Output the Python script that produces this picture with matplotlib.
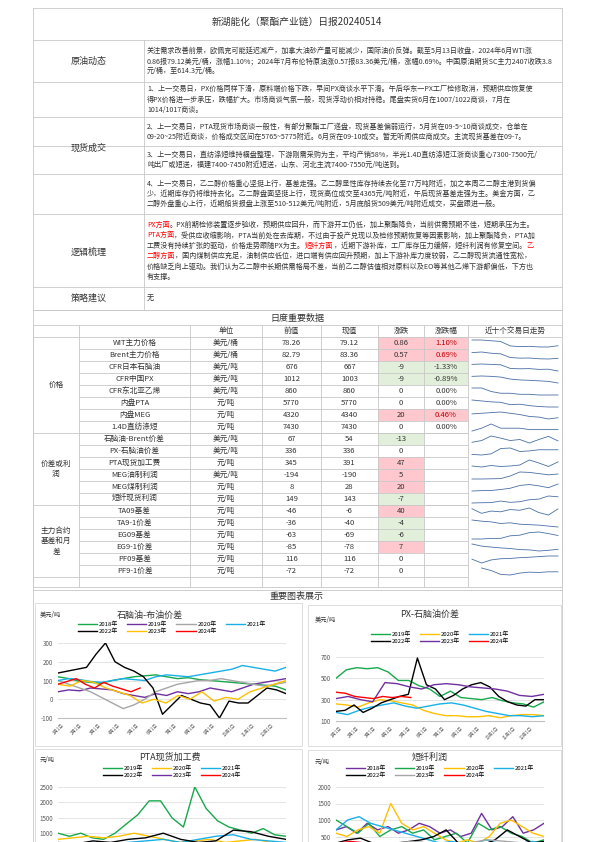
import matplotlib
matplotlib.use('Agg')
import matplotlib.pyplot as plt
import numpy as np

plt.rcParams['font.family'] = ['Noto Sans CJK SC', 'DejaVu Sans']
plt.rcParams['axes.unicode_minus'] = False

# ---------- text content ----------
title = '新湖能化（聚酯产业链）日报20240514'

crude_lines = [
    '关注需求改善前景，欧佩克可能延迟减产，加拿大油砂产量可能减少，国际油价反弹。截至5月13日收盘，2024年6月WTI涨',
    '0.86报79.12美元/桶，涨幅1.10%；2024年7月布伦特原油涨0.57报83.36美元/桶，涨幅0.69%。中国原油期货SC主力2407收跌3.8',
    '元/桶，至614.3元/桶。',
]
spot_blocks = [
    ['1、上一交易日，PX价格同样下滑，原料端价格下跌，早间PX商谈水平下滑。午后华东一PX工厂检修取消，预期供应恢复使',
     '得PX价格进一步承压，跌幅扩大。市场商谈气氛一般，现货浮动价相对持稳。尾盘实货6月在1007/1022商谈，7月在',
     '1014/1017商谈。'],
    ['2、上一交易日，PTA现货市场商谈一般性，有部分聚酯工厂递盘，现货基差偏弱运行，5月货在09-5~10商谈成交，仓单在',
     '09-20~25附近商谈，价格成交区间在5765~5775附近。6月货在09-10成交。暂无听闻供应商成交。主流现货基差在09-7。'],
    ['3、上一交易日，直纺涤短维持横盘整理，下游刚需采购为主，平均产销58%，半光1.4D直纺涤短江浙商谈重心7300-7500元/',
     '吨出厂或短送，福建7400-7450附近短送，山东、河北主流7400-7550元/吨送到。'],
    ['4、上一交易日，乙二醇价格重心坚挺上行，基差走强。乙二醇显性库存持续去化至77万吨附近，加之本周乙二醇主港到货偏',
     '少，近期库存仍将维持去化。乙二醇盘面坚挺上行，现货高位成交至4365元/吨附近，午后现货基差走强为主。美金方面，乙',
     '二醇外盘重心上行，近期船货报盘上涨至510-512美元/吨附近，5月底船货509美元/吨附近成交，买盘跟进一般。'],
]
logic_lines = [
    [('PX方面', 1), ('。PX前期检修装置逐步验收，预期供应回升，而下游开工仍低，加上聚酯降负，当前供需预期不佳，短期承压为主。', 0)],
    [('PTA方面', 1), ('，受供应收缩影响，PTA当前处在去库期，不过由于投产兑现以及检修预期恢复等因素影响，加上聚酯降负，PTA加', 0)],
    [('工费没有持续扩张的驱动，价格走势跟随PX为主。', 0), ('短纤方面', 1), ('，近期下游补库，工厂库存压力缓解，短纤利润有修复空间。', 0), ('乙', 1)],
    [('二醇方面', 1), ('，国内煤制供应充足，油制供应低位，进口端有供应回升预期，加上下游补库力度较弱，乙二醇现货流通性宽松，', 0)],
    [('价格缺乏向上驱动。我们认为乙二醇中长期供需格局不差，当前乙二醇估值相对原料以及EO等其他乙烯下游都偏低，下方也', 0)],
    [('有支撑。', 0)],
]

# ---------- daily data table ----------
headers = ['单位', '前值', '现值', '涨跌', '涨跌幅', '近十个交易日走势']
groups = [('价格', 0, 8), ('价差或利\n润', 8, 14), ('主力合约\n基差和月\n差', 14, 20)]
names = ['WIT主力价格', 'Brent主力价格', 'CFR日本石脑油', 'CFR中国PX', 'CFR东北亚乙烯', '内盘PTA', '内盘MEG',
         '1.4D直纺涤短', '石脑油-Brent价差', 'PX-石脑油价差', 'PTA现货加工费', 'MEG油制利润', 'MEG煤制利润',
         '短纤现货利润', 'TA09基差', 'TA9-1价差', 'EG09基差', 'EG9-1价差', 'PF09基差', 'PF9-1价差']
units = ['美元/桶', '美元/桶', '美元/吨', '美元/吨', '美元/吨', '元/吨', '元/吨', '元/吨', '美元/吨', '美元/吨',
         '元/吨', '美元/吨', '元/吨', '元/吨', '元/吨', '元/吨', '元/吨', '元/吨', '元/吨', '元/吨']
prev_vals = ['78.26', '82.79', '676', '1012', '860', '5770', '4320', '7430', '67', '336', '345', '-194', '8',
             '149', '-46', '-36', '-63', '-85', '116', '-72']
cur_vals = ['79.12', '83.36', '667', '1003', '860', '5770', '4340', '7430', '54', '336', '391', '-190', '28',
            '143', '-6', '-40', '-69', '-78', '116', '-72']
changes = ['0.86', '0.57', '-9', '-9', '0', '0', '20', '0', '-13', '0', '47', '5', '20', '-7', '40', '-4', '-6',
           '7', '0', '0']
pct = ['1.10%', '0.69%', '-1.33%', '-0.89%', '0.00%', '0.00%', '0.46%', '0.00%'] + [''] * 12
spark = [
    [83, 83, 82.5, 82, 79, 78.5, 78.7, 78.3, 78.26, 79.12],
    [88, 88.5, 87.5, 87, 84, 83.5, 83.6, 83, 82.79, 83.36],
    [700, 702, 700, 698, 680, 678, 679, 675, 676, 667],
    [1040, 1042, 1040, 1036, 1025, 1020, 1018, 1015, 1012, 1003],
    [880, 880, 870, 865, 865, 862, 862, 860, 860, 860],
    [5920, 5900, 5880, 5870, 5820, 5830, 5800, 5780, 5770, 5770],
    [4400, 4410, 4420, 4430, 4410, 4390, 4360, 4350, 4320, 4340],
    [7420, 7440, 7470, 7440, 7440, 7440, 7430, 7430, 7430, 7430],
    [50, 55, 68, 62, 55, 58, 48, 58, 67, 54],
    [320, 318, 322, 340, 342, 330, 332, 336, 336, 336],
    [350, 340, 355, 345, 350, 360, 410, 380, 345, 391],
    [-215, -215, -214, -213, -200, -180, -182, -188, -194, -190],
    [-10, -8, -7, -2, 5, 20, 25, 18, 8, 28],
    [95, 97, 98, 110, 100, 105, 120, 125, 149, 143],
    [-5, -35, -20, -25, -10, -15, 0, -30, -46, -6],
    [-10, -15, -18, -25, -22, -28, -30, -32, -36, -40],
    [-80, -80, -78, -78, -70, -68, -60, -58, -63, -69],
    [-40, -55, -62, -68, -72, -80, -82, -90, -85, -78],
    [95, 70, 90, 98, 100, 105, 108, 112, 116, 116],
    [None, -60, -68, -80, -82, -76, -73, -74, -72, -72],
]

# ---------- seasonal charts ----------
c1_years = ['2018年', '2019年', '2020年', '2021年', '2022年', '2023年', '2024年']
c1_colors = ['#17a84b', '#7030a0', '#a6a6a6', '#19b0e8', '#000000', '#ffc000', '#ff0000']
c1_data = [
    [120, 110, 95, 90, 85, 100, 110, 120, 125, 130, 120, 110, 115, 105, 100, 95, 90, 85, 80, 75, 70, 50],
    [40, 50, 45, 60, 55, 50, 30, 20, 10, 30, 20, 40, 30, 40, 60, 50, 40, 60, 80, 90, 100, 110],
    [100, 80, 60, 40, 10, -20, -50, -30, 0, 40, 60, 80, 90, 100, 100, 110, 100, 90, 80, 70, 80, 90],
    [100, 110, 105, 95, 90, 100, 110, 105, 100, 120, 130, 125, 120, 130, 140, 150, 160, 180, 170, 160, 150, 170],
    [140, 150, 160, 170, 240, 300, 200, 170, 150, 120, 60, -80, -30, 20, 0, -20, -30, -100, -10, -20, -20, 20, 60, 50, 30],
    [80, 70, 100, 90, 60, 40, 20, -20, 0, -20, 20, 0, 40, -10, 10, 0, 40, 60, 80, 100],
    [80, 95, 110, 80, 60, 90, 70, 55, 40, 60],
]
c1_end = [1, 1, 1, 1, 1, 1, 0.36]

c2_years = ['2019年', '2020年', '2021年', '2022年', '2023年', '2024年']
c2_colors = ['#17a84b', '#ffc000', '#19b0e8', '#000000', '#7030a0', '#ff0000']
c2_data = [
    [500, 580, 600, 590, 600, 560, 480, 480, 430, 400, 330, 380, 320, 310, 300, 320, 290, 270, 260, 230, 280],
    [260, 250, 230, 270, 300, 290, 270, 250, 200, 170, 150, 150, 140, 140, 150, 130, 150, 160, 160, 150],
    [180, 160, 200, 230, 250, 270, 240, 220, 240, 260, 270, 250, 220, 190, 170, 150, 150, 140, 150],
    [190, 200, 250, 180, 220, 270, 300, 330, 350, 690, 440, 400, 300, 340, 400, 440, 460, 420, 330, 280, 250, 240, 300, 300],
    [310, 330, 300, 280, 460, 450, 420, 400, 440, 450, 440, 420, 410, 400, 380, 340, 330, 350],
    [370, 360, 330, 320, 310, 330, 320, 330, 320],
]
c2_end = [1, 1, 1, 1, 1, 0.36]

c3_years = ['2019年', '2020年', '2021年', '2022年', '2023年', '2024年']
c3_colors = ['#17a84b', '#ffc000', '#19b0e8', '#000000', '#7030a0', '#ff0000']
c3_data = [
    [1000, 900, 1000, 850, 800, 1000, 1300, 1600, 2050, 2050, 1500, 1200, 2500, 1800, 1400, 1200, 1100, 1000, 1150, 950, 900],
    [800, 850, 900, 850, 900, 1000, 900, 800, 700, 750, 800, 700, 750, 800, 700, 650],
    [600, 650, 700, 650, 700, 750, 800, 700, 800, 900, 950, 800, 750, 700],
    [700, 650, 750, 700, 800, 850, 1000, 800, 700, 750, 1100, 1050, 900, 800],
    [400, 500, 450, 600, 550, 500, 450, 500, 400, 450, 500],
    [400, 450, 380, 420, 400, 390],
]
c3_end = [1, 1, 1, 1, 1, 0.36]

c4_years = ['2018年', '2019年', '2020年', '2021年', '2022年', '2023年', '2024年']
c4_colors = ['#7030a0', '#17a84b', '#ffc000', '#19b0e8', '#000000', '#a6a6a6', '#ff0000']
c4_data = [
    [700, 800, 600, 900, 700, 800, 600, 700, 900, 800, 600, 700, 500, 600, 1200, 700, 800, 1100, 600, 700, 900],
    [1000, 800, 600, 900, 500, 700, 800, 600, 700, 400, 500, 600, 300, 900, 700, 800, 600, 500, 300, 400],
    [600, 500, 700, 800, 600, 1500, 900, 700, 800, 600, 400, 300, 400, 300, 500, 900, 1000, 800, 600, 500],
    [700, 1000, 1100, 900, 800, 700, 600, 500, 400, 300, 350, 300, 300, 400, 300, 250, 300, 350, 300],
    [300, 400, 450, 300, 200, 300, 350, 400, 500, 700, 300, 200, 250, 400, 700, 500, 300, 350],
    [200, 300, 250, 300, 350, 300, 250, 300, 400, 350, 300, 250],
    [300, 350, 300, 250, 300, 280],
]
c4_end = [1, 1, 1, 1, 1, 1, 0.36]

months = ['%d月1日' % m for m in range(1, 13)]

# ---------- page ----------
fig = plt.figure(figsize=(5.95, 8.42), dpi=100)
bg = fig.add_axes([0, 0, 1, 1])
bg.set_xlim(0, 595)
bg.set_ylim(842, 0)
bg.axis('off')

L, M, R = 33, 144, 562
grid_c = '#c8c8c8'
FS = 5.1
RED = '#ff0000'


def hline(y, x0=L, x1=R, c=grid_c, lw=0.6):
    bg.plot([x0, x1], [y, y], color=c, lw=lw)


def vline(x, y0, y1, c=grid_c, lw=0.6):
    bg.plot([x, x], [y0, y1], color=c, lw=lw)


bg.text(297, 22, title, ha='center', va='center', fontsize=7, color='#333333')

# text block rows
rows = [40, 82, 117, 146, 174, 214, 287, 310]
for y in rows:
    hline(y)
vline(L, 8, 842)
vline(M, 40, 310)
vline(R, 8, 842)
hline(8)
for lab, y in [('原油动态', 61), ('现货成交', 148), ('逻辑梳理', 252), ('策略建议', 298)]:
    bg.text(89, y, lab, ha='center', va='center', fontsize=6.5, color='#333333')

for i, ln in enumerate(crude_lines):
    bg.text(M + 3, 51 + 10 * i, ln, fontsize=FS, va='center', color='#333333')
spot_y = [[89, 100, 110], [127, 137], [155, 165], [184, 194, 204]]
for blk, ys in zip(spot_blocks, spot_y):
    for ln, y in zip(blk, ys):
        bg.text(M + 3, y, ln, fontsize=FS, va='center', color='#333333')

fig.canvas.draw()
rend = fig.canvas.get_renderer()
inv = bg.transData.inverted()
for i, segs in enumerate(logic_lines):
    x = M + 3
    y = 225 + 10.4 * i
    for s, red in segs:
        t = bg.text(x, y, s, fontsize=FS, va='center', color=RED if red else '#333333')
        bb = t.get_window_extent(rend)
        x = inv.transform((bb.x1, bb.y0))[0]
bg.text(M + 3, 298, '无', fontsize=FS, va='center', color='#333333')

# ---------- daily table ----------
cols = [L, 79, 190, 262, 321, 378, 424, 468, R]
ty0, rh = 325, 12
hline(310)
bg.text(297, 318, '日度重要数据', ha='center', va='center', fontsize=6.5, color='#333333')
hline(ty0)
hline(ty0 + rh)
n = len(names)
for j, h in enumerate(headers):
    xc = (cols[j + 2] + cols[j + 3]) / 2
    bg.text(xc, ty0 + rh / 2, h, ha='center', va='center', fontsize=5.5, color='#333333')
red_bg, green_bg = '#ffc7ce', '#e2efda'
for i in range(n):
    y0 = ty0 + rh * (i + 1)
    yc = y0 + rh / 2
    try:
        ch = float(changes[i])
    except ValueError:
        ch = 0
    fill = red_bg if ch > 0 else (green_bg if ch < 0 else None)
    if fill:
        bg.add_patch(plt.Rectangle((cols[5], y0), cols[6] - cols[5], rh, color=fill, lw=0))
        if pct[i]:
            bg.add_patch(plt.Rectangle((cols[6], y0), cols[7] - cols[6], rh, color=fill, lw=0))
    vals = [names[i], units[i], prev_vals[i], cur_vals[i], changes[i], pct[i]]
    for j, v in enumerate(vals):
        xc = (cols[j + 1] + cols[j + 2]) / 2
        col = '#c00000' if (j == 5 and ch > 0) else '#333333'
        bg.text(xc, yc, v, ha='center', va='center', fontsize=5.5, color=col)
    s = np.array([np.nan if v is None else v for v in spark[i]], dtype=float)
    lo, hi = np.nanmin(s), np.nanmax(s)
    sx = np.linspace(cols[7] + 4, R - 4, len(s))
    sy = y0 + rh - 2 - (s - lo) / (hi - lo if hi > lo else 1) * (rh - 5)
    bg.plot(sx, sy, color='#4a6fa5', lw=0.6)
    if i < n - 1:
        hline(y0 + rh, cols[1], cols[7])
tend = ty0 + rh * (n + 1)
for g, a, b in groups:
    hline(ty0 + rh * (b + 1), L, cols[7])
    bg.text(56, ty0 + rh * (a + 1 + (b - a) / 2), g, ha='center', va='center', fontsize=5.5,
            color='#333333', linespacing=1.4)
hline(tend + 10)
for x in cols:
    vline(x, ty0, tend + 10)

# ---------- charts ----------
bg.text(297, 596, '重要图表展示', ha='center', va='center', fontsize=6.5, color='#333333')
hline(590)
for (x0, y0, x1, y1) in [(35, 603, 302, 746), (308, 605, 561, 746), (35, 749, 302, 845), (308, 750, 561, 845)]:
    bg.add_patch(plt.Rectangle((x0, y0), x1 - x0, y1 - y0, fill=False, ec='#d9d9d9', lw=0.6))


def fpos(x0, y0, x1, y1):
    return [x0 / 595, 1 - y1 / 842, (x1 - x0) / 595, (y1 - y0) / 842]


def season(rect, data, ends, colors, years, ylim, yticks, ctitle, unit, ncol, leg, tx, show_x=True):
    ax = fig.add_axes(fpos(*rect))
    lines = []
    for d, e, c, yl in zip(data, ends, colors, years):
        xs = np.linspace(0, 365 * e, len(d))
        lines += ax.plot(xs, d, color=c, lw=1.0, label=yl)
    ax.set_xlim(0, 365)
    ax.set_ylim(*ylim)
    ax.set_yticks(yticks)
    ax.set_xticks(np.arange(12) * 30.4)
    if show_x:
        ax.set_xticklabels(months, rotation=45, fontsize=3.2, color='#595959')
    else:
        ax.set_xticklabels([])
    ax.tick_params(axis='y', labelsize=4.5, colors='#595959', length=0)
    ax.tick_params(axis='x', length=0)
    ax.grid(axis='y', color='#d9d9d9', lw=0.5)
    for sp in ['top', 'right', 'left']:
        ax.spines[sp].set_visible(False)
    ax.spines['bottom'].set_color('#bfbfbf')
    ax.set_axisbelow(True)
    bg.text(tx, rect[1] - leg[1], ctitle, ha='center', va='center', fontsize=6.5, color='#333333')
    bg.text(leg[2], rect[1] - leg[3], unit, ha='left', va='center', fontsize=4.5, color='#333333')
    # row-major legend order
    nl = len(lines)
    nrow = -(-nl // ncol)
    order = [r * ncol + c for c in range(ncol) for r in range(nrow) if r * ncol + c < nl]
    ax.legend([lines[k] for k in order], [years[k] for k in order], loc='lower center',
              bbox_to_anchor=(0.5, 1.0 + leg[0]), ncol=ncol, fontsize=4.3,
              frameon=False, handlelength=3.2, columnspacing=1.5, handletextpad=0.3, labelspacing=0.2)
    return ax


season((58, 643, 286, 718), c1_data, c1_end, c1_colors, c1_years, (-100, 300), [-100, 0, 100, 200, 300],
       '石脑油-布油价差', '美元/吨', 4, (0.05, 28, 40, 28), 150)
season((336, 657, 544, 721), c2_data, c2_end, c2_colors, c2_years, (100, 700), [100, 300, 500, 700],
       'PX-石脑油价差', '美元/吨', 3, (0.12, 43, 315, 37), 430)
season((58, 787, 286, 864), c3_data, c3_end, c3_colors, c3_years, (0, 2500), [1000, 1500, 2000, 2500],
       'PTA现货加工费', '元/吨', 3, (0.05, 30, 40, 27), 170, show_x=False)
season((336, 787, 544, 853), c4_data, c4_end, c4_colors, c4_years, (0, 2000), [500, 1000, 1500, 2000],
       '短纤利润', '元/吨', 4, (0.06, 30, 315, 25), 430, show_x=False)

fig.savefig('out.png', dpi=100)
